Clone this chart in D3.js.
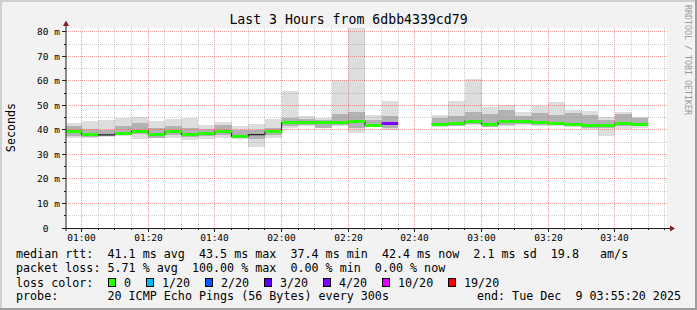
<!DOCTYPE html>
<html>
<head>
<meta charset="utf-8">
<script src="https://cdn.jsdelivr.net/npm/d3@7"></script>
<style>
  html, body { margin: 0; padding: 0; background: #f2f2f2; }
  svg text { font-family: "DejaVu Sans Mono", monospace; white-space: pre; }
</style>
</head>
<body>
<div class="graph"></div>
<script>
// one entry per 5 minute step, starting 00:55 (null = no reply at all)
const medians  = [39.2, 38.1, 38.0, 38.5, 39.3, 38.3, 39.2, 38.1, 38.4, 39.2, 37.4, 38.1, 39.2,
                  42.9, 42.9, 42.9, 42.9, 43.4, 42.0, 42.5, null, null,
                  42.4, 42.6, 43.4, 42.4, 43.5, 43.3, 43.0, 42.6, 42.1, 41.7, 42.0, 42.5, 42.4];
const pingMin  = [36.7, 36.7, 37.3, 37.4, 36.3, 36.6, 36.9, 36.0, 36.3, 36.7, 36.3, 32.9, 36.7,
                  40.8, 41.8, 40.7, 41.5, 38.8, 41.2, 40.1, null, null,
                  41.2, 41.5, 42.2, 41.1, 41.8, 42.2, 41.5, 41.5, 41.3, 40.4, 37.4, 40.4, 40.8];
const pingMax  = [42.9, 43.8, 44.2, 45.0, 45.3, 43.8, 44.6, 44.9, 42.2, 43.4, 41.5, 42.3, 44.6,
                  55.8, 45.6, 44.9, 60.5, 90.0, 46.2, 52.0, null, null,
                  46.2, 51.7, 60.9, 49.2, 50.0, 47.2, 49.6, 51.3, 48.3, 47.6, 45.4, 47.4, 45.2];
const pingLow  = [37.5, 37.0, 37.5, 37.8, 38.5, 36.8, 38.0, 37.0, 37.5, 38.0, 37.0, 36.5, 38.0,
                  41.5, 42.0, 41.0, 42.0, 41.0, 41.5, 41.0, null, null,
                  41.5, 41.8, 42.5, 41.3, 42.0, 42.5, 42.0, 42.0, 41.5, 41.0, 41.0, 41.5, 41.5];
const pingHigh = [41.5, 40.5, 40.0, 41.5, 42.9, 41.0, 41.5, 41.0, 40.5, 42.0, 40.0, 40.0, 41.0,
                  45.0, 44.5, 44.0, 46.5, 47.2, 44.0, 45.5, null, null,
                  45.0, 45.5, 47.5, 46.5, 48.0, 45.5, 47.0, 46.0, 47.0, 46.0, 44.0, 46.5, 45.0];
const lossCounts = [0, 0, 0, 0, 0, 0, 0, 0, 0, 0, 0, 0, 0,
                    0, 0, 0, 0, 0, 0, 4, 20, 20,
                    0, 0, 0, 0, 0, 0, 0, 0, 0, 0, 0, 0, 0];
const darkMedianSteps = [2, 11];

const yTicks = [0, 10, 20, 30, 40, 50, 60, 70, 80];
const lossLabels = ["0", "1/20", "2/20", "3/20", "4/20", "10/20", "19/20"];
const lossLimits = [0, 1, 2, 3, 4, 10, 19];
const lossColors = ["#26ff00", "#00b8ff", "#0059ff", "#5e00ff", "#7e00ff", "#dd00ff", "#ff0000"];

const width = 697, height = 310;
const plotLeft = 66, plotRight = 666, plotTop = 28, plotBottom = 228;

const firstStep = new Date(2025, 11, 9, 0, 55, 0);
const stepMs = 300 * 1000;
const stepStart = i => new Date(+firstStep + i * stepMs);

const x = d3.scaleTime()
        .domain([new Date(2025, 11, 9, 0, 55, 20), new Date(2025, 11, 9, 3, 55, 20)])
        .range([plotLeft, plotRight]);
const y = d3.scaleLinear().domain([0, 81.6]).range([plotBottom, plotTop]);

const svg = d3.select(".graph")
        .append("svg")
        .attr("width", width)
        .attr("height", height)
        .style("display", "block");

// background with rrdtool shade
svg.append("rect").attr("width", width).attr("height", height).attr("fill", "#f2f2f2");
svg.append("rect").attr("width", width).attr("height", 2).attr("fill", "#cfcfcf");
svg.append("rect").attr("width", 2).attr("height", height).attr("fill", "#cfcfcf");
svg.append("rect").attr("y", height - 2).attr("width", width).attr("height", 2).attr("fill", "#9e9e9e");
svg.append("rect").attr("x", width - 2).attr("width", 2).attr("height", height).attr("fill", "#9e9e9e");

svg.append("rect")
        .attr("x", plotLeft).attr("y", plotTop)
        .attr("width", plotRight - plotLeft + 1).attr("height", plotBottom - plotTop)
        .attr("fill", "#fff");

svg.append("clipPath").attr("id", "plot")
        .append("rect")
        .attr("x", plotLeft).attr("y", plotTop)
        .attr("width", plotRight - plotLeft).attr("height", plotBottom - plotTop);

const plot = svg.append("g").attr("clip-path", "url(#plot)");
const steps = medians.map((m, i) => i).filter(i => medians[i] !== null);

// smoke
plot.selectAll(".outer").data(steps).enter()
        .append("rect")
        .attr("x", i => x(stepStart(i)))
        .attr("width", i => x(stepStart(i + 1)) - x(stepStart(i)))
        .attr("y", i => y(pingMax[i]))
        .attr("height", i => y(pingMin[i]) - y(pingMax[i]))
        .attr("fill", "#dddddd")
        .attr("shape-rendering", "crispEdges");

plot.selectAll(".inner").data(steps).enter()
        .append("rect")
        .attr("x", i => x(stepStart(i)))
        .attr("width", i => x(stepStart(i + 1)) - x(stepStart(i)))
        .attr("y", i => y(pingHigh[i]))
        .attr("height", i => y(pingLow[i]) - y(pingHigh[i]))
        .attr("fill", "#b2b2b2")
        .attr("shape-rendering", "crispEdges");

// median step line
const medianPoints = [];
medians.forEach((m, i) => {
    if (m === null) { medianPoints.push(null); return; }
    medianPoints.push({ t: stepStart(i), v: m });
    medianPoints.push({ t: stepStart(i + 1), v: m });
});
plot.append("path")
        .attr("d", d3.line().defined(d => d !== null).x(d => x(d.t)).y(d => y(d.v))(medianPoints))
        .attr("fill", "none")
        .attr("stroke", "#202020")
        .attr("stroke-width", 1.2);

const lossColor = n => {
    let c = lossColors[0];
    lossLimits.forEach((lim, k) => { if (n >= lim) c = lossColors[k]; });
    return c;
};

plot.selectAll(".median").data(steps.filter(i => !darkMedianSteps.includes(i))).enter()
        .append("rect")
        .attr("x", i => x(stepStart(i)))
        .attr("width", i => x(stepStart(i + 1)) - x(stepStart(i)))
        .attr("y", i => y(medians[i]) - 1.5)
        .attr("height", 3)
        .attr("fill", i => lossColor(lossCounts[i]))
        .attr("shape-rendering", "crispEdges");

// grid (drawn over the data, like rrdtool)
const minorTimes = d3.timeMinute.every(5).range(x.domain()[0], x.domain()[1]);
const isMajorTime = t => t.getMinutes() % 20 === 0;
const grid = svg.append("g").attr("fill", "none").attr("stroke-dasharray", "1,1");
const px = v => Math.floor(v) + 0.5;

minorTimes.forEach(t => {
    grid.append("line")
            .attr("x1", px(x(t))).attr("x2", px(x(t)))
            .attr("y1", plotTop).attr("y2", plotBottom)
            .attr("stroke", isMajorTime(t) ? "rgba(222,79,79,0.55)" : "rgba(143,143,143,0.45)");
});
d3.range(5, 81, 5).forEach(v => {
    grid.append("line")
            .attr("x1", plotLeft).attr("x2", plotRight + 1)
            .attr("y1", px(y(v))).attr("y2", px(y(v)))
            .attr("stroke", v % 10 === 0 ? "rgba(222,79,79,0.55)" : "rgba(143,143,143,0.45)");
});

// axes
const axis = svg.append("g").attr("stroke", "#1f1f1f").attr("shape-rendering", "crispEdges");
minorTimes.forEach(t => {
    axis.append("line")
            .attr("x1", px(x(t))).attr("x2", px(x(t)))
            .attr("y1", plotBottom).attr("y2", plotBottom + (isMajorTime(t) ? 4 : 2));
});
d3.range(5, 81, 5).forEach(v => {
    axis.append("line")
            .attr("x1", plotLeft - (v % 10 === 0 ? 4 : 2)).attr("x2", plotLeft)
            .attr("y1", px(y(v))).attr("y2", px(y(v)));
});
axis.append("line")
        .attr("x1", plotLeft - 4).attr("x2", plotRight + 4)
        .attr("y1", plotBottom + 0.5).attr("y2", plotBottom + 0.5);
svg.append("line")
        .attr("x1", plotLeft).attr("x2", plotLeft)
        .attr("y1", plotBottom + 3).attr("y2", 23)
        .attr("stroke", "#1f1f1f");
svg.append("path")
        .attr("d", `M${plotRight + 4},${plotBottom - 2.5} L${plotRight + 9},${plotBottom + 0.5} L${plotRight + 4},${plotBottom + 3.5} Z`)
        .attr("fill", "#801f1f");
svg.append("path")
        .attr("d", `M${plotLeft - 3},26 L${plotLeft},20.5 L${plotLeft + 3},26 Z`)
        .attr("fill", "#801f1f");

// axis labels
svg.selectAll(".ylab").data(yTicks).enter()
        .append("text")
        .attr("x", 60)
        .attr("y", v => y(v) + 3.5)
        .attr("text-anchor", "end")
        .attr("font-size", "9.5px")
        .text(v => v === 0 ? "0  " : v + " m");

svg.selectAll(".xlab").data(minorTimes.filter(isMajorTime)).enter()
        .append("text")
        .attr("x", t => px(x(t)))
        .attr("y", 241)
        .attr("text-anchor", "middle")
        .attr("font-size", "9.5px")
        .text(d3.timeFormat("%H:%M"));

svg.append("text")
        .attr("x", 348.5).attr("y", 23.5)
        .attr("text-anchor", "middle")
        .attr("font-size", "13.2px")
        .text("Last 3 Hours from 6dbb4339cd79");

svg.append("text")
        .attr("transform", "translate(14.5,127.5) rotate(-90)")
        .attr("text-anchor", "middle")
        .attr("font-size", "11.7px")
        .text("Seconds");

svg.append("text")
        .attr("transform", "translate(684.5,5) rotate(90)")
        .attr("font-size", "8.3px")
        .attr("fill", "#999999")
        .text("RRDTOOL / TOBI OETIKER");

// legend
const legendFont = "11.7px";
const legendRows = [
    [258, "median rtt:  41.1 ms avg  43.5 ms max  37.4 ms min  42.4 ms now  2.1 ms sd  19.8   am/s"],
    [272, "packet loss: 5.71 % avg  100.00 % max  0.00 % min  0.00 % now"],
    [286.5, "loss color:"],
    [300, "probe:       20 ICMP Echo Pings (56 Bytes) every 300s"],
];
legendRows.forEach(([ly, txt]) => {
    svg.append("text").attr("x", 16).attr("y", ly).attr("font-size", legendFont).text(txt);
});
svg.append("text")
        .attr("x", 681).attr("y", 300)
        .attr("text-anchor", "end")
        .attr("font-size", legendFont)
        .text("end: Tue Dec  9 03:55:20 2025");

let boxX = 108.5;
lossLabels.forEach((label, k) => {
    svg.append("rect")
            .attr("x", boxX).attr("y", 278.5)
            .attr("width", 7).attr("height", 8)
            .attr("fill", lossColors[k])
            .attr("stroke", "#000");
    const t = svg.append("text")
            .attr("x", boxX + 15.5).attr("y", 286.5)
            .attr("font-size", legendFont)
            .text(label);
    boxX = Math.round(boxX + 15.5 + t.node().getComputedTextLength() + 14.5) + 0.5;
});
</script>
</body>
</html>
